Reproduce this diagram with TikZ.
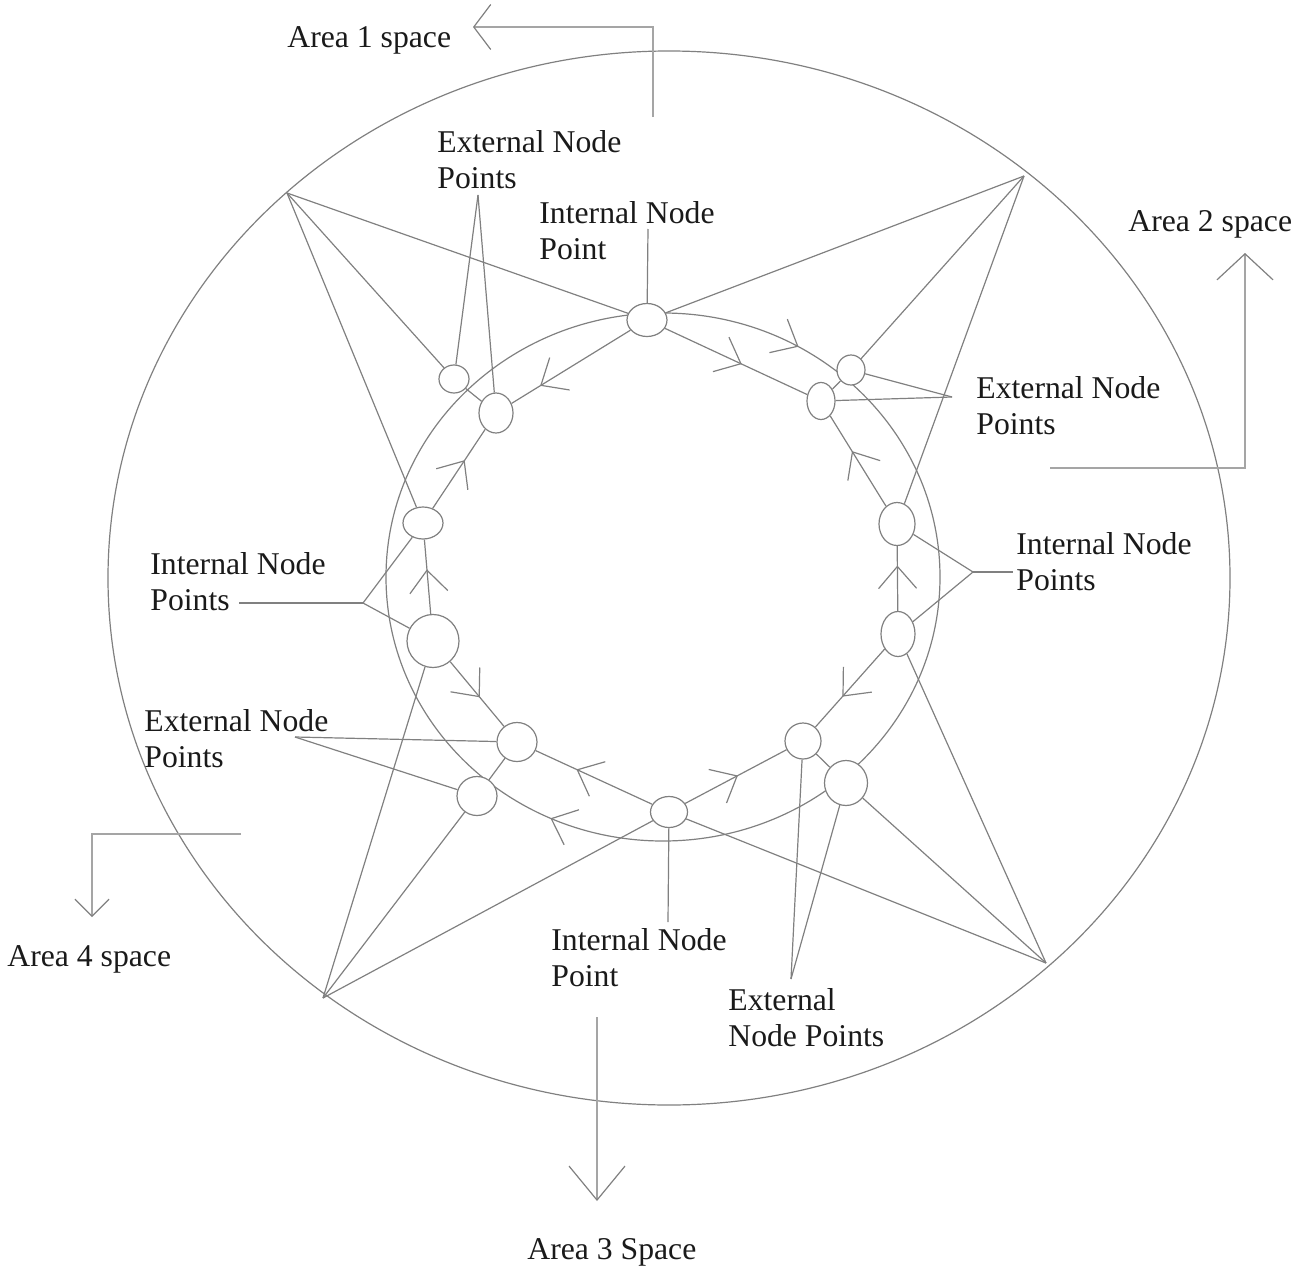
\documentclass[tikz,border=0pt]{standalone}
\usepackage{fontspec}
\setmainfont{Liberation Serif}
\usepackage{tikz}
\usetikzlibrary{shapes.geometric,arrows.meta,decorations.markings}
\definecolor{linegray}{RGB}{128,128,128}
\definecolor{shaftgray}{RGB}{165,165,165}
\definecolor{textblack}{RGB}{26,26,26}

\begin{document}
\begin{tikzpicture}[x=0.5pt,y=-0.5pt,
  link/.style={draw=linegray,line width=0.6pt},
  shaft/.style={draw=shaftgray,line width=0.9pt},
  nodept/.style={ellipse,draw=linegray,line width=0.6pt,fill=white,inner sep=0pt},
  lbl/.style={anchor=north west,align=left,inner sep=0pt,text=textblack,font=\fontsize{15.85}{18.25}\selectfont},
  midv/.style={postaction={decorate},decoration={markings,mark=at position #1 with {\arrow[linegray]{Straight Barb[length=11pt,width=19pt]}}}},
  ringv/.style={postaction={decorate},decoration={markings,
    mark=at position 0.318 with {\arrow[linegray]{Straight Barb[length=11pt,width=19pt]}},
    mark=at position 0.833 with {\arrow[linegray]{Straight Barb[length=11pt,width=19pt]}}}}]
  \useasboundingbox (0,0) rectangle (1307,1274);

  % Outer area and ring
  \draw[link] (669,578) ellipse [x radius=561,y radius=527];
  \draw[link,ringv] (663,577) ellipse [x radius=277,y radius=264];

  % Node points
  \node[nodept,minimum width=20pt,minimum height=16.5pt] (n1) at (647,320) {};
  \node[nodept,minimum width=14pt,minimum height=15pt] (n2) at (851,370) {};
  \node[nodept,minimum width=14pt,minimum height=18.5pt] (n3) at (821,401) {};
  \node[nodept,minimum width=18pt,minimum height=21.5pt] (n4) at (897,524) {};
  \node[nodept,minimum width=17pt,minimum height=22.5pt] (n5) at (898,634) {};
  \node[nodept,minimum width=18pt,minimum height=18pt] (n6) at (803,741) {};
  \node[nodept,minimum width=21.5pt,minimum height=22.5pt] (n7) at (846,783) {};
  \node[nodept,minimum width=18.5pt,minimum height=15.5pt] (n8) at (669,812) {};
  \node[nodept,minimum width=20pt,minimum height=19.5pt] (n9) at (517,742) {};
  \node[nodept,minimum width=20pt,minimum height=19.5pt] (n10) at (477,796) {};
  \node[nodept,minimum width=26pt,minimum height=26.5pt] (n11) at (433,641) {};
  \node[nodept,minimum width=20pt,minimum height=16pt] (n12) at (423,523) {};
  \node[nodept,minimum width=15pt,minimum height=14pt] (n13) at (454,379) {};
  \node[nodept,minimum width=17pt,minimum height=20pt] (n14) at (496,413) {};

  % Star points
  \coordinate (A) at (287,193);
  \coordinate (B) at (1024,176);
  \coordinate (C) at (1046,963);
  \coordinate (D) at (323,998);
  \draw[link] (A) -- (n1);
  \draw[link] (A) -- (n13);
  \draw[link] (A) -- (n12);
  \draw[link] (B) -- (n1);
  \draw[link] (B) -- (n2);
  \draw[link] (B) -- (n4);
  \draw[link] (C) -- (n5);
  \draw[link] (C) -- (n7);
  \draw[link] (C) -- (n8);
  \draw[link] (D) -- (n8);
  \draw[link] (D) -- (n10);
  \draw[link] (D) -- (n11);

  % Inner track
  \draw[link,midv=0.54] (n1) -- (n3);
  \draw[link,midv=0.61] (n4) -- (n3);
  \draw[link,midv=0.7] (n5) -- (n4);
  \draw[link,midv=0.61] (n5) -- (n6);
  \draw[link,midv=0.52] (n8) -- (n6);
  \draw[link,midv=0.65] (n8) -- (n9);
  \draw[link,midv=0.55] (n11) -- (n9);
  \draw[link,midv=0.6] (n11) -- (n12);
  \draw[link,midv=0.61] (n12) -- (n14);
  \draw[link,midv=0.76] (n1) -- (n14);
  \draw[link] (n2) -- (n3);
  \draw[link] (n6) -- (n7);
  \draw[link] (n9) -- (n10);
  \draw[link] (n13) -- (n14);

  % Labels
  \node[lbl] (extTL) at (437,130) {External Node\\Points};
  \node[lbl] (intT) at (539,201) {Internal Node\\Point};
  \node[lbl] (extR) at (976,376) {External Node\\Points};
  \node[lbl] (intR) at (1016,532) {Internal Node\\Points};
  \node[lbl] (intL) at (150,552) {Internal Node\\Points};
  \node[lbl] (extL) at (144,709) {External Node\\Points};
  \node[lbl] (intB) at (551,928) {Internal Node\\Point};
  \node[lbl] (extBR) at (728,988) {External\\Node Points};

  % Callouts
  \coordinate (cTL) at (478,195);
  \draw[link] (cTL) -- (n13);
  \draw[link] (cTL) -- (n14);
  \coordinate (cT) at (648,229);
  \draw[link] (cT) -- (n1);
  \coordinate (cR) at (952,397);
  \draw[link] (cR) -- (n2);
  \draw[link] (cR) -- (n3);
  \coordinate (cIR) at (973,572);
  \coordinate (cIRend) at (1013,572);
  \draw[link] (n4) -- (cIR) -- (n5);
  \draw[link] (cIR) -- (cIRend);
  \coordinate (cIL) at (363,603);
  \coordinate (cILend) at (239,603);
  \draw[link] (n12) -- (cIL) -- (n11);
  \draw[link] (cIL) -- (cILend);
  \coordinate (cL) at (295,737);
  \draw[link] (cL) -- (n9);
  \draw[link] (cL) -- (n10);
  \coordinate (cB) at (668,922);
  \draw[link] (n8) -- (cB);
  \coordinate (cBR) at (791,979);
  \draw[link] (cBR) -- (n6);
  \draw[link] (cBR) -- (n7);

  % Area arrows
  \node[lbl] (area1) at (287,26) {Area 1 space};
  \coordinate (a1s) at (653,117);
  \coordinate (a1e) at (473,27);
  \draw[shaft,-{Straight Barb[length=8.5pt,width=22.5pt,color=linegray,line width=0.6pt]}] (a1s) |- (a1e);
  \node[lbl] (area2) at (1128,210) {Area 2 space};
  \coordinate (a2s) at (1050,468);
  \coordinate (a2e) at (1245,253);
  \draw[shaft,-{Straight Barb[length=13pt,width=28pt,color=linegray,line width=0.6pt]}] (a2s) -| (a2e);
  \node[lbl] (area3) at (527,1238) {Area 3 Space};
  \coordinate (a3s) at (597,1017);
  \coordinate (a3e) at (597,1201);
  \draw[shaft,-{Straight Barb[length=17pt,width=28pt,color=linegray,line width=0.6pt]}] (a3s) -- (a3e);
  \node[lbl] (area4) at (7,945) {Area 4 space};
  \coordinate (a4s) at (241,834);
  \coordinate (a4e) at (92,917);
  \draw[shaft,-{Straight Barb[length=8.5pt,width=17pt,color=linegray,line width=0.6pt]}] (a4s) -| (a4e);
\end{tikzpicture}
\end{document}
